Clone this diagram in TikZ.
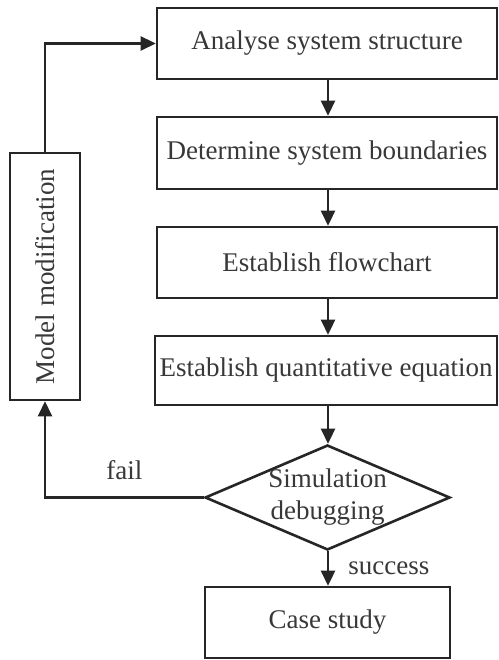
\documentclass[tikz,border=0pt]{standalone}
\usepackage{fontspec}
\setmainfont{Liberation Serif}
\usetikzlibrary{arrows.meta,shapes.geometric}

\begin{document}
\begin{tikzpicture}[x=1pt,y=-1pt,
  every node/.style={text=black!78,font=\fontsize{27}{32}\selectfont},
  stepbox/.style={draw=black!85,line width=2.6pt,rectangle,inner sep=0pt},
  decision/.style={draw=black!85,line width=2.6pt,diamond,inner sep=0pt},
  arr/.style={draw=black!85,line width=2.6pt,-{Triangle[length=15pt,width=14pt]}},
  lbl/.style={inner sep=0pt}]
\useasboundingbox (0,0) rectangle (498,660);

% main chain of steps
\node[stepbox,minimum width=340,minimum height=71] (b1) at (327,43.5) {Analyse system structure};
\node[stepbox,minimum width=340,minimum height=72] (b2) at (327,153) {Determine system boundaries};
\node[stepbox,minimum width=340,minimum height=71] (b3) at (327,262.5) {Establish flowchart};
\node[stepbox,minimum width=342,minimum height=69] (b4) at (326,370.5) {Establish quantitative equation};

% decision and final step
\node[decision,minimum width=245,minimum height=105] (sim) at (327.5,497.5) {};
\node[align=center,inner sep=0pt] (simtext) at (sim.center) {Simulation\\debugging};
\node[stepbox,minimum width=245,minimum height=71] (case) at (327.5,622.5) {Case study};

% feedback box
\node[stepbox,minimum width=70,minimum height=247] (mod) at (45,276.5) {};
\node[rotate=90,inner sep=0pt] (modtext) at (mod.center) {Model modification};

% connectors
\draw[arr] (b1.south -| 328,0) -- (b2.north -| 328,0);
\draw[arr] (b2.south -| 328,0) -- (b3.north -| 328,0);
\draw[arr] (b3.south -| 328,0) -- (b4.north -| 328,0);
\draw[arr] (b4.south -| 328,0) -- (sim.north -| 328,0);
\draw[arr] (sim.south -| 328,0) -- node[right=19pt,lbl] {success} (case.north -| 328,0);
\draw[arr] (sim.west) -| node[pos=0.25,above=16pt,lbl] {fail} (mod.south);
\draw[arr] (mod.north) |- (b1.west);
\end{tikzpicture}
\end{document}
